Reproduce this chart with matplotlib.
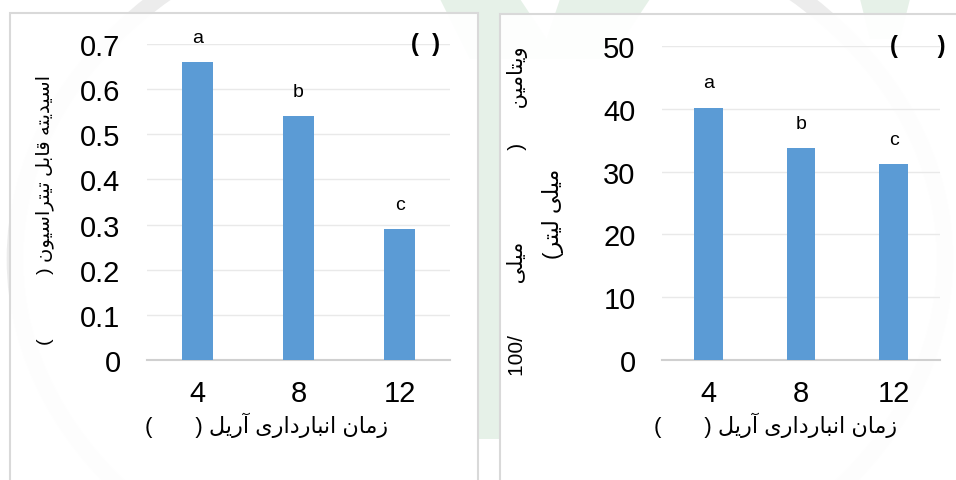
import matplotlib
matplotlib.use("Agg")
import matplotlib.pyplot as plt
from matplotlib.patches import Rectangle, Ellipse, Polygon

# storage time (weeks) and measured values
weeks = ["4", "8", "12"]
acidity = [0.66, 0.54, 0.29]
vitamin_c = [40.2, 33.7, 31.2]
acidity_letters = ["a", "b", "c"]
vitamin_letters = ["a", "b", "c"]
acidity_ticks = [0, 0.1, 0.2, 0.3, 0.4, 0.5, 0.6, 0.7]
vitamin_ticks = [0, 10, 20, 30, 40, 50]

# Persian contextual forms (isolated, final, initial, medial)
FORMS = {
    'ا': (0xFE8D, 0xFE8E, None, None),
    'آ': (0xFE81, 0xFE82, None, None),
    'ب': (0xFE8F, 0xFE90, 0xFE91, 0xFE92),
    'ت': (0xFE95, 0xFE96, 0xFE97, 0xFE98),
    'د': (0xFEA9, 0xFEAA, None, None),
    'ر': (0xFEAD, 0xFEAE, None, None),
    'ز': (0xFEAF, 0xFEB0, None, None),
    'س': (0xFEB1, 0xFEB2, 0xFEB3, 0xFEB4),
    'ق': (0xFED5, 0xFED6, 0xFED7, 0xFED8),
    'ل': (0xFEDD, 0xFEDE, 0xFEDF, 0xFEE0),
    'م': (0xFEE1, 0xFEE2, 0xFEE3, 0xFEE4),
    'ن': (0xFEE5, 0xFEE6, 0xFEE7, 0xFEE8),
    'ه': (0xFEE9, 0xFEEA, 0xFEEB, 0xFEEC),
    'و': (0xFEED, 0xFEEE, None, None),
    'ی': (0xFEEF, 0xFEF0, 0xFEF3, 0xFEF4),
}


def rtl(text):
    # shape letters and return them in visual (left-to-right) order
    out = []
    for i, ch in enumerate(text):
        if ch not in FORMS:
            out.append(ch)
            continue
        prev = text[i - 1] if i > 0 else ' '
        nxt = text[i + 1] if i + 1 < len(text) else ' '
        join_prev = prev in FORMS and FORMS[prev][2] is not None
        join_next = FORMS[ch][2] is not None and nxt in FORMS
        iso, fin, ini, med = FORMS[ch]
        if join_prev and join_next:
            code = med
        elif join_prev:
            code = fin
        elif join_next:
            code = ini
        else:
            code = iso
        out.append(chr(code))
    return ''.join(reversed(out))


plt.rcParams['font.family'] = ['Liberation Sans', 'DejaVu Sans']

BLUE = '#5B9BD5'
GRID = '#e9e9e9'
AXIS = '#d0d0d0'
W, H = 956, 481

fig = plt.figure(figsize=(9.56, 4.81), dpi=100)


def fx(px):
    return px / W


def fy(py):
    return 1 - py / H


# faint logo behind the charts
fig.patches.append(Ellipse((fx(480), fy(260)), fx(930), 1.5, transform=fig.transFigure,
                           fill=False, edgecolor='#ececec', lw=12, zorder=-5))
for pts in [[(440, 0), (520, 0), (560, 60), (470, 60)],
            [(560, 0), (650, 0), (610, 60), (540, 60)],
            [(478, 60), (500, 60), (500, 440), (478, 440)],
            [(860, 0), (910, 0), (900, 40), (870, 40)]]:
    fig.patches.append(Polygon([(fx(a), fy(b)) for a, b in pts], closed=True,
                               transform=fig.transFigure, facecolor='#e6f1e8',
                               edgecolor='none', zorder=-4))

# chart area frames
for left, right, top in [(10, 478, 14), (500, 970, 15)]:
    fig.patches.append(Rectangle((fx(left), -0.05), fx(right - left), fy(top) + 0.05,
                                 transform=fig.transFigure, facecolor='white',
                                 alpha=0.95, edgecolor='none', zorder=-3))
    fig.patches.append(Rectangle((fx(left), -0.05), fx(right - left), fy(top) + 0.05,
                                 transform=fig.transFigure, fill=False,
                                 edgecolor='#d9d9d9', lw=1.5, zorder=-2))

ax1 = fig.add_axes([fx(147), 120 / H, fx(303), 316 / H])
ax2 = fig.add_axes([fx(662), 120 / H, fx(278), 314 / H])

xlabel = '(       ) ' + rtl('زمان انبارداری آریل')

panels = [
    (ax1, acidity, acidity_letters, acidity_ticks, 0.7, '(  )', 0.394),
    (ax2, vitamin_c, vitamin_letters, vitamin_ticks, 50, '(      )', 0.41),
]

for ax, vals, letters, ticks, top, tag, xl in panels:
    ax.patch.set_alpha(0)
    x = range(len(weeks))
    bars = ax.bar(x, vals, width=0.31, color=BLUE, zorder=3)
    ax.set_xlim(-0.5, 2.5)
    ax.set_ylim(0, top)
    ax.set_yticks(ticks)
    ax.set_yticklabels([f'{t:g}' for t in ticks])
    ax.set_xticks(list(x))
    ax.set_xticklabels(weeks)
    ax.tick_params(axis='y', length=0, pad=19, labelsize=21)
    ax.tick_params(axis='x', length=0, pad=14, labelsize=21)
    ax.grid(axis='y', color=GRID, lw=1, zorder=0)
    for s in ['top', 'right', 'left']:
        ax.spines[s].set_visible(False)
    ax.spines['bottom'].set_color(AXIS)
    ax.spines['bottom'].set_linewidth(1.5)
    for b, lab in zip(bars, letters):
        ax.annotate(lab, (b.get_x() + b.get_width() / 2, b.get_height()),
                    xytext=(0, 18), textcoords='offset points',
                    ha='center', va='center', fontsize=14)
    ax.text(0.92, 1.0, tag, transform=ax.transAxes, ha='center', va='center',
            fontsize=17, fontweight='bold')
    ax.text(xl, -0.205, xlabel, transform=ax.transAxes, ha='center', va='center',
            fontsize=16)

# y axis titles
ylabel1 = '(            ) ' + rtl('اسیدیته قابل تیتراسیون')
fig.text(fx(45), fy(210), ylabel1, rotation=90, ha='center', va='center', fontsize=14)

line1 = ('100/         ' + rtl('میلی') + '                ' + ')' + '      '
         + rtl('ویتامین'))
line2 = '(' + rtl('میلی لیتر')
fig.text(fx(517), fy(211), line1, rotation=90, ha='center', va='center', fontsize=15)
fig.text(fx(553), fy(214), line2, rotation=90, ha='center', va='center', fontsize=16)

fig.savefig('out.png', dpi=100)
